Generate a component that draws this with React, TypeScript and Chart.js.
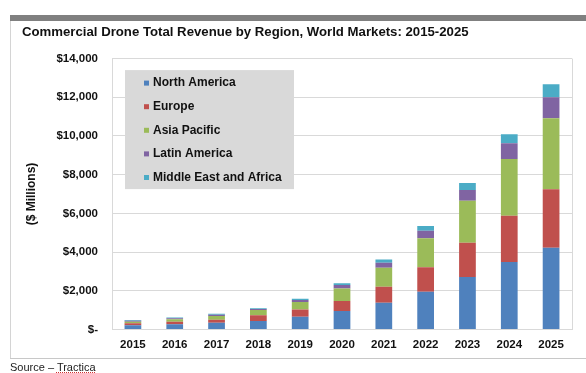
import React, { useEffect, useRef } from "react";
import { Chart, registerables } from "chart.js";

Chart.register(...registerables);

const years = ["2015", "2016", "2017", "2018", "2019", "2020", "2021", "2022", "2023", "2024", "2025"];
const northAmerica = [210, 265, 345, 435, 655, 950, 1380, 1950, 2710, 3485, 4225];
const europe = [105, 135, 155, 295, 380, 515, 825, 1260, 1775, 2395, 3020];
const asiaPacific = [85, 125, 190, 275, 380, 655, 980, 1500, 2170, 2930, 3670];
const latinAmerica = [45, 50, 70, 55, 105, 170, 260, 395, 555, 810, 1085];
const middleEastAfrica = [35, 35, 50, 35, 65, 90, 175, 245, 360, 465, 670];
const seriesNames = ["North America", "Europe", "Asia Pacific", "Latin America", "Middle East and Africa"];
const seriesColors = ["#4F81BD", "#C0504D", "#9BBB59", "#8064A2", "#4BACC6"];
const yTickStep = 2000;
const yMax = 14000;

const FONT = "'Liberation Sans', Arial, sans-serif";

const frameAndLegend = {
  id: "frameAndLegend",
  afterDatasetsDraw(chart: any) {
    const { ctx, chartArea } = chart;
    ctx.save();
    ctx.strokeStyle = "#d9d9d9";
    ctx.lineWidth = 1;
    ctx.beginPath();
    ctx.moveTo(Math.round(chartArea.right) + 0.5, chartArea.top);
    ctx.lineTo(Math.round(chartArea.right) + 0.5, chartArea.bottom);
    ctx.stroke();

    const bx = chartArea.left + 13;
    const by = chartArea.top + 11.5;
    const bw = 169;
    const bh = 119;
    ctx.fillStyle = "#d9d9d9";
    ctx.fillRect(bx, by, bw, bh);
    ctx.font = `bold 12px ${FONT}`;
    ctx.textBaseline = "middle";
    ctx.textAlign = "left";
    chart.data.datasets.forEach((ds: any, i: number) => {
      const cy = by + 13 + i * 23.6;
      ctx.fillStyle = ds.backgroundColor;
      ctx.fillRect(bx + 19, cy - 2.5, 5, 5);
      ctx.fillStyle = "#111";
      ctx.fillText(ds.label, bx + 28, cy);
    });
    ctx.restore();
  },
};

export default function App() {
  const canvasRef = useRef<HTMLCanvasElement | null>(null);

  useEffect(() => {
    const values = [northAmerica, europe, asiaPacific, latinAmerica, middleEastAfrica];
    const chart = new Chart(canvasRef.current as HTMLCanvasElement, {
      type: "bar",
      data: {
        labels: years,
        datasets: seriesNames.map((name, i) => ({
          label: name,
          data: values[i],
          backgroundColor: seriesColors[i],
          borderWidth: 0,
          barPercentage: 0.4,
          categoryPercentage: 1,
        })),
      },
      options: {
        responsive: false,
        animation: false,
        devicePixelRatio: 1,
        layout: { padding: { left: 0, top: 58.6, right: 14, bottom: 0 } },
        plugins: {
          legend: { display: false },
          tooltip: { enabled: false },
          title: { display: false },
        },
        scales: {
          x: {
            stacked: true,
            grid: { display: false, drawTicks: false },
            border: { display: true, color: "#d9d9d9" },
            ticks: {
              font: { family: FONT, size: 11.5, weight: "bold" },
              color: "#111",
              padding: 9,
              maxRotation: 0,
            },
            afterFit: (scale: any) => {
              scale.height = 43.6;
            },
          },
          y: {
            stacked: true,
            min: 0,
            max: yMax,
            grid: { color: "#d9d9d9", drawTicks: false },
            border: { display: true, color: "#d9d9d9" },
            ticks: {
              stepSize: yTickStep,
              font: { family: FONT, size: 11.5, weight: "bold" },
              color: "#111",
              padding: 14,
              callback: (v: any) => (Number(v) === 0 ? "$-" : "$" + Number(v).toLocaleString("en-US")),
            },
            title: {
              display: true,
              text: "($ Millions)",
              font: { family: FONT, size: 12, weight: "bold" },
              color: "#111",
              padding: { top: 24, bottom: 0 },
            },
            afterFit: (scale: any) => {
              scale.width = 112;
            },
          },
        },
      },
      plugins: [frameAndLegend],
    } as any);
    return () => chart.destroy();
  }, []);

  return (
    <div style={{ position: "absolute", left: 0, top: 0, width: 586, height: 373, background: "#fff", overflow: "hidden" }}>
      <div style={{ position: "absolute", left: 10, top: 15, width: 576, height: 6, background: "#808080" }} />
      <div style={{ position: "absolute", left: 10, top: 21, width: 1, height: 338, background: "#d4d4d4" }} />
      <div style={{ position: "absolute", left: 10, top: 358, width: 576, height: 1, background: "#c8c8c8" }} />
      <canvas ref={canvasRef} width={586} height={373} style={{ position: "absolute", left: 0, top: 0, width: 586, height: 373 }} />
      <div
        style={{
          position: "absolute",
          left: 22,
          top: 25,
          fontFamily: FONT,
          fontWeight: "bold",
          fontSize: 13.2,
          lineHeight: "14px",
          color: "#111",
          whiteSpace: "nowrap",
        }}
      >
        Commercial Drone Total Revenue by Region, World Markets: 2015-2025
      </div>
      <div
        style={{
          position: "absolute",
          left: 10,
          top: 362,
          fontFamily: FONT,
          fontSize: 11,
          lineHeight: "11px",
          color: "#222",
          whiteSpace: "nowrap",
        }}
      >
        Source –{" "}
        <span
          style={{
            textDecorationLine: "underline",
            textDecorationStyle: "dotted",
            textDecorationColor: "#d03030",
            textDecorationThickness: "1px",
            textUnderlineOffset: "1px",
          }}
        >
          Tractica
        </span>
      </div>
    </div>
  );
}
